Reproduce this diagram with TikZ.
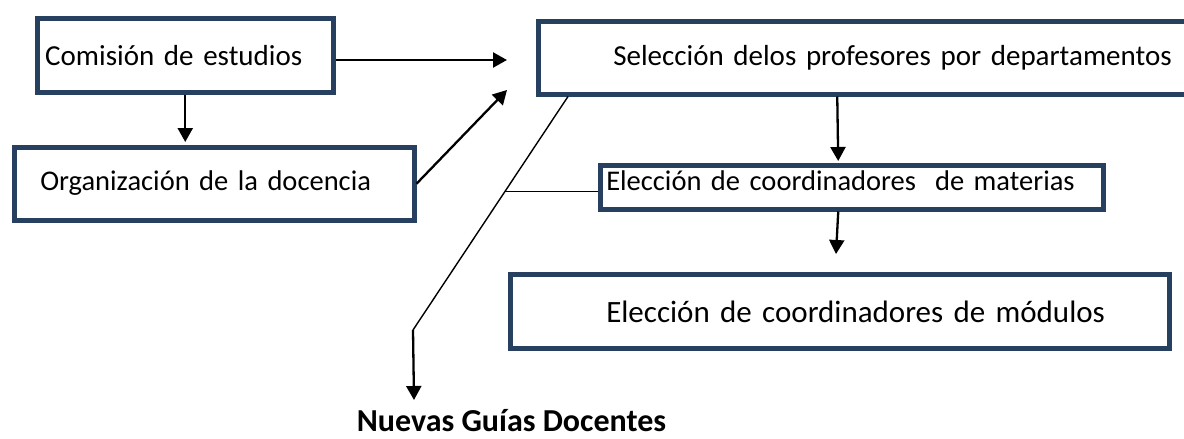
\documentclass[tikz,border=0pt]{standalone}
\usepackage{fontspec}
\setmainfont{Carlito}
\usetikzlibrary{arrows.meta,calc}
\definecolor{azulcaja}{RGB}{40,64,96}

\begin{document}
\begin{tikzpicture}[x=1pt,y=-1pt,
	caja/.style={rectangle, draw=azulcaja, line width=4.5pt, anchor=north west, align=left, inner sep=0pt, text height=24pt},
	flecha/.style={line width=2.3pt, -{Triangle[length=14pt,width=15pt]}},
	linea/.style={line width=1.4pt}]
\useasboundingbox (0,0) rectangle (1184,439);

\foreach \n/\x/\y/\w/\h/\s/\d/\f/\t in {
	comision/35/16/296/74/8/4/29/Comisión de estudios%
	,organizacion/12/145/400/73/26/11/28.5/Organización de la docencia%
	,seleccion/536/19/654/73/75/9/29/Selección delos profesores por departamentos%
	,materias/598/163/503/44/6/18/28.5/Elección de coordinadores~ de materias%
	,modulos/508/272/659/74/96/2/31/Elección de coordinadores de módulos%
}{
	\node[caja, minimum width=\w pt, minimum height=\h pt, text width=\w pt, text depth=\d pt, font=\fontsize{\f}{\f}\selectfont](\n) at(\x,\y) {\hspace*{\s pt}\t};
}
\node[font=\bfseries\fontsize{32}{36}\selectfont, anchor=base, inner sep=0pt](guias) at(511.5,431) {Nuevas Guías Docentes};

\coordinate (puntaA) at (507,60);
\coordinate (puntaB) at (507,90);
\coordinate (puntaC) at (836,254);
\coordinate (puntaD) at (414,400);
\coordinate (quiebre) at (413,330);

\draw[flecha] (comision.east |- puntaA) -- (puntaA);
\draw[flecha, shorten >=3pt] (comision.south) -- (comision.south |- organizacion.north);
\draw[flecha] (organizacion.east) -- (puntaB);
\draw[flecha, shorten >=2pt] ([xshift=-28pt]seleccion.south) -- ([xshift=-13.5pt]materias.north);
\draw[flecha] ([xshift=-13.5pt]materias.south) -- (puntaC);
\draw[linea] ([xshift=32pt]seleccion.south west) -- (quiebre) coordinate[pos=0.407] (cruce);
\draw[flecha] (quiebre) -- (puntaD);
\draw[linea] (materias.west |- cruce) -- (cruce);
\end{tikzpicture}
\end{document}
